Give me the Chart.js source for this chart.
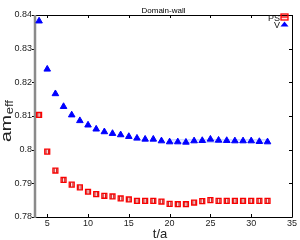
<!DOCTYPE html>
<html>
<head>
<meta charset="utf-8">
<script src="https://cdn.jsdelivr.net/npm/chart.js@4/dist/chart.umd.min.js"></script>
<style>
html,body{margin:0;padding:0;background:#fff;}
#wrap{width:300px;height:240px;}
</style>
</head>
<body>
<div id="wrap"><canvas id="c" width="300" height="240"></canvas></div>
<script>
const tValues = [4,5,6,7,8,9,10,11,12,13,14,15,16,17,18,19,20,21,22,23,24,25,26,27,28,29,30,31,32];
const psValues = [0.8103,0.7994,0.7938,0.7910,0.7896,0.7888,0.7875,0.7868,0.7863,0.7861,0.7855,0.7852,0.7848,0.7848,0.7848,0.7846,0.7839,0.7838,0.7838,0.7843,0.7847,0.7850,0.7848,0.7848,0.7848,0.7848,0.7848,0.7848,0.7848];
const vValues = [0.8382,0.8239,0.8166,0.8128,0.8103,0.8086,0.8073,0.8061,0.8053,0.8048,0.8044,0.8039,0.8034,0.8031,0.8031,0.8026,0.8023,0.8023,0.8022,0.8026,0.8027,0.8031,0.8028,0.8027,0.8026,0.8026,0.8026,0.8024,0.8023];
const fitT = [20, 32];
const vFitUpper = [0.8029, 0.8029];
const vFitLower = [0.8022, 0.8022];
const xTicks = [5,10,15,20,25,30,35];
const yTicks = [0.78,0.79,0.80,0.81,0.82,0.83,0.84];
const seriesNames = ['PS','V'];
const titleText = 'Domain-wall';
const xTitle = 't/a';

const FONT = "'Liberation Sans', Arial, Helvetica, sans-serif";

const toXY = (xs, ys) => xs.map((x, i) => ({x: x, y: ys[i]}));

const framePlugin = {
  id: 'frame',
  beforeDatasetsDraw(chart) {
    const {ctx, chartArea: a, scales} = chart;
    ctx.save();
    ctx.strokeStyle = '#000';
    ctx.lineWidth = 1;
    xTicks.forEach(v => {
      const px = Math.round(scales.x.getPixelForValue(v)) + 0.5;
      ctx.beginPath();
      ctx.moveTo(px, a.top); ctx.lineTo(px, a.top + 3);
      ctx.moveTo(px, a.bottom); ctx.lineTo(px, a.bottom - 3);
      ctx.stroke();
    });
    yTicks.forEach(v => {
      const py = Math.round(scales.y.getPixelForValue(v)) + 0.5;
      ctx.beginPath();
      ctx.moveTo(a.right, py); ctx.lineTo(a.right - 3, py);
      ctx.moveTo(a.left - 3, py); ctx.lineTo(a.left, py);
      ctx.stroke();
    });
    ctx.beginPath();
    ctx.moveTo(a.left, Math.round(a.top) + 0.5);
    ctx.lineTo(Math.round(a.right) + 0.5, Math.round(a.top) + 0.5);
    ctx.lineTo(Math.round(a.right) + 0.5, Math.round(a.bottom) + 0.5);
    ctx.lineTo(a.left, Math.round(a.bottom) + 0.5);
    ctx.stroke();
    ctx.strokeStyle = '#8a8a8a';
    ctx.lineWidth = 2.5;
    ctx.beginPath();
    ctx.moveTo(a.left, a.top);
    ctx.lineTo(a.left, a.bottom + 1);
    ctx.stroke();
    ctx.restore();
  },
  afterDatasetsDraw(chart) {
    const {ctx} = chart;
    const meta = chart.getDatasetMeta(0);
    ctx.save();
    ctx.strokeStyle = '#c00000';
    ctx.lineWidth = 0.9;
    meta.data.forEach(pt => {
      ctx.beginPath();
      ctx.moveTo(pt.x - 1.2, pt.y - 2.2); ctx.lineTo(pt.x - 1.2, pt.y + 2.2);
      ctx.moveTo(pt.x + 1.2, pt.y - 2.2); ctx.lineTo(pt.x + 1.2, pt.y + 2.2);
      ctx.stroke();
    });
    ctx.restore();
  },
  afterDraw(chart) {
    const {ctx, chartArea: a} = chart;
    ctx.save();
    ctx.fillStyle = '#000';
    ctx.font = '8px ' + FONT;
    ctx.textAlign = 'center';
    ctx.textBaseline = 'alphabetic';
    ctx.fillText(titleText, (a.left + a.right) / 2, 13);
    ctx.font = '13px ' + FONT;
    ctx.fillStyle = '#222';
    ctx.fillText(xTitle, 160, 238);
    ctx.save();
    ctx.translate(10.5, 142);
    ctx.rotate(-Math.PI / 2);
    ctx.scale(1.3, 1);
    ctx.textAlign = 'left';
    ctx.font = '15px ' + FONT;
    ctx.fillText('am', 0, 0);
    const w = ctx.measureText('am').width;
    ctx.font = '10px ' + FONT;
    ctx.fillText('eff', w + 0.5, 2);
    ctx.restore();
    ctx.font = '9px ' + FONT;
    ctx.textAlign = 'right';
    ctx.fillStyle = '#111';
    ctx.fillText(seriesNames[0], 280, 20.5);
    ctx.fillText(seriesNames[1], 280, 27.5);
    ctx.strokeStyle = '#ff0000';
    ctx.fillStyle = 'rgba(255,0,0,0.12)';
    ctx.lineWidth = 1.3;
    ctx.fillRect(281, 14, 7, 6);
    ctx.strokeRect(281, 14, 7, 6);
    ctx.beginPath();
    ctx.moveTo(281, 17); ctx.lineTo(288, 17);
    ctx.stroke();
    ctx.fillStyle = '#0000ff';
    ctx.beginPath();
    ctx.moveTo(284.5, 21.5); ctx.lineTo(288.5, 26.5); ctx.lineTo(280.5, 26.5);
    ctx.closePath();
    ctx.fill();
    ctx.restore();
  }
};

new Chart(document.getElementById('c'), {
  type: 'scatter',
  data: {
    datasets: [
      {
        label: seriesNames[0],
        data: toXY(tValues, psValues),
        pointStyle: 'rect',
        pointRadius: 3.5,
        pointBorderWidth: 1.3,
        borderColor: '#ff0000',
        backgroundColor: 'rgba(255,0,0,0.12)',
        showLine: false
      },
      {
        label: seriesNames[1],
        data: toXY(tValues, vValues),
        pointStyle: 'triangle',
        pointRadius: 3.8,
        pointBorderWidth: 1,
        borderColor: '#0000ff',
        backgroundColor: '#0000ff',
        showLine: false
      },
      {
        label: 'fit+',
        data: toXY(fitT, vFitUpper),
        type: 'line',
        borderColor: 'rgba(120,150,255,0.55)',
        borderWidth: 1,
        pointRadius: 0
      },
      {
        label: 'fit-',
        data: toXY(fitT, vFitLower),
        type: 'line',
        borderColor: 'rgba(120,150,255,0.55)',
        borderWidth: 1,
        pointRadius: 0
      }
    ]
  },
  options: {
    responsive: false,
    animation: false,
    events: [],
    layout: {padding: {top: 15, right: 8, left: 0, bottom: 0}},
    plugins: {legend: {display: false}, title: {display: false}, tooltip: {enabled: false}},
    scales: {
      x: {
        type: 'linear',
        min: 3.5,
        max: 35,
        grid: {display: false, drawTicks: false, tickLength: 0},
        border: {display: false},
        afterBuildTicks: s => { s.ticks = xTicks.map(v => ({value: v})); },
        afterFit: s => { s.height = 23; },
        ticks: {
          padding: 1,
          color: '#222',
          font: {family: FONT, size: 9},
          maxRotation: 0,
          autoSkip: false
        }
      },
      y: {
        type: 'linear',
        min: 0.78,
        max: 0.84,
        grid: {display: false, drawTicks: false, tickLength: 0},
        border: {display: false},
        afterBuildTicks: s => { s.ticks = yTicks.map(v => ({value: v})); },
        afterFit: s => { s.width = 35; },
        ticks: {
          padding: 3,
          color: '#222',
          font: {family: FONT, size: 9},
          autoSkip: false,
          callback: v => String(Number(v.toFixed(2)))
        }
      }
    }
  },
  plugins: [framePlugin]
});
</script>
</body>
</html>
